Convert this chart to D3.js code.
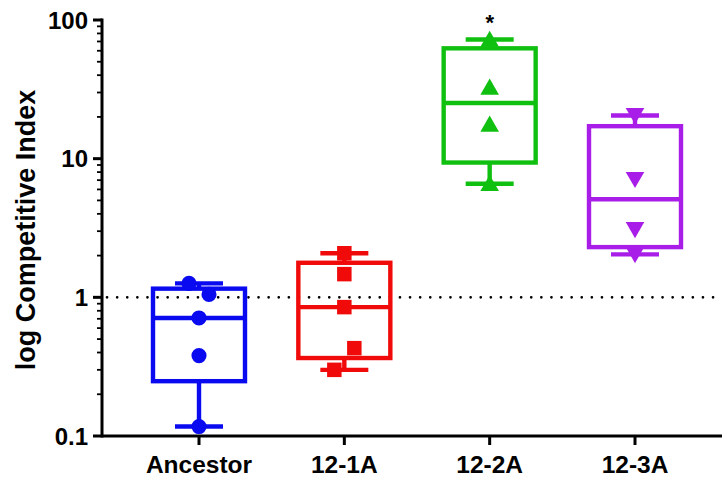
<!DOCTYPE html>
<html>
<head>
<meta charset="utf-8">
<script src="https://cdn.jsdelivr.net/npm/d3@7/dist/d3.min.js"></script>
<style>
  html, body { margin: 0; padding: 0; background: #fff; }
  svg { display: block; }
  text { font-family: "Liberation Sans", Arial, sans-serif; font-weight: bold; fill: #000; }
</style>
</head>
<body>
<svg id="chart" width="722" height="479"></svg>
<script>
// ---- data ----
const categories = ["Ancestor", "12-1A", "12-2A", "12-3A"];
const ancestorValues = [1.26, 1.05, 0.71, 0.38, 0.117];
const g121AValues   = [2.08, 1.47, 0.85, 0.43, 0.30];
const g122AValues   = [72.4, 32.7, 17.7, 6.6];
const g123AValues   = [20.5, 7.1, 3.09, 2.04];
// side-by-side dodge rank for overlapping points (-1 left, 0 centre, 1 right)
const ancestorDodge = [-1, 1, 0, 0, 0];
const g121ADodge    = [0, 0, 0, 1, -1];
const g122ADodge    = [0, 0, 0, 0];
const g123ADodge    = [0, 0, 0, 0];
const yTickValues   = [0.1, 1, 10, 100];
const yTickLabels   = ["0.1", "1", "10", "100"];
const referenceLine = 1;
const significance  = ["", "", "*", ""];
const colors  = ["#0a0af0", "#f00a0a", "#10c010", "#a81ee8"];
const shapes  = ["circle", "square", "triangle", "triangleDown"];

const groups = [ancestorValues, g121AValues, g122AValues, g123AValues];
const dodges = [ancestorDodge, g121ADodge, g122ADodge, g123ADodge];

// ---- layout ----
const svg = d3.select("#chart");
const x = d3.scalePoint().domain(categories).range([199, 635]);
const y = d3.scaleLog().domain([0.1, 100]).range([436, 20]);
const axisX0 = 102, axisRight = 722;

function pct(sorted, p) {
  const n = sorted.length;
  let pos = p * (n + 1);
  if (pos < 1) pos = 1;
  if (pos > n) pos = n;
  const lo = Math.floor(pos), hi = Math.ceil(pos);
  const f = pos - lo;
  return sorted[lo - 1] + f * (sorted[hi - 1] - sorted[lo - 1]);
}
function stats(vals) {
  const s = vals.slice().sort((a, b) => a - b);
  return { min: s[0], q1: pct(s, 0.25), med: d3.median(s), q3: pct(s, 0.75), max: s[s.length - 1] };
}

// reference dotted line
svg.append("line")
  .attr("x1", axisX0 + 5).attr("x2", axisRight)
  .attr("y1", y(referenceLine)).attr("y2", y(referenceLine))
  .attr("stroke", "#000").attr("stroke-width", 2.6)
  .attr("stroke-linecap", "round")
  .attr("stroke-dasharray", "0.1 10");

const boxHalf = 46, capHalf = 24, lw = 4.4;

groups.forEach((vals, i) => {
  const st = stats(vals);
  const cx = x(categories[i]);
  const g = svg.append("g").attr("stroke", colors[i]).attr("stroke-width", lw).attr("fill", "none");
  // whiskers
  g.append("line").attr("x1", cx).attr("x2", cx).attr("y1", y(st.max)).attr("y2", y(st.q3));
  g.append("line").attr("x1", cx).attr("x2", cx).attr("y1", y(st.q1)).attr("y2", y(st.min));
  g.append("line").attr("x1", cx - capHalf).attr("x2", cx + capHalf).attr("y1", y(st.max)).attr("y2", y(st.max));
  g.append("line").attr("x1", cx - capHalf).attr("x2", cx + capHalf).attr("y1", y(st.min)).attr("y2", y(st.min));
  // box
  g.append("rect").attr("x", cx - boxHalf).attr("width", boxHalf * 2)
    .attr("y", y(st.q3)).attr("height", y(st.q1) - y(st.q3));
  g.append("line").attr("x1", cx - boxHalf).attr("x2", cx + boxHalf).attr("y1", y(st.med)).attr("y2", y(st.med));

  // points
  const symType = {
    circle: d3.symbolCircle, square: d3.symbolSquare,
    triangle: d3.symbolTriangle, triangleDown: d3.symbolTriangle
  }[shapes[i]];
  const size = { circle: 180, square: 210, triangle: 150, triangleDown: 150 }[shapes[i]];
  const sym = d3.symbol().type(symType).size(size);
  vals.forEach((v, j) => {
    const px = cx + dodges[i][j] * 10;
    let py = y(v);
    let rot = 0;
    if (shapes[i] === "triangle") py += 2;
    if (shapes[i] === "triangleDown") { rot = 180; py -= 2; }
    svg.append("path").attr("d", sym())
      .attr("transform", `translate(${px},${py}) rotate(${rot})`)
      .attr("fill", colors[i]);
  });

  if (significance[i]) {
    svg.append("text").attr("x", cx).attr("y", 30)
      .attr("text-anchor", "middle").style("font-size", "22px")
      .text(significance[i]);
  }
});

// y axis
const yAxisG = svg.append("g").attr("stroke", "#000");
yAxisG.append("line").attr("x1", axisX0).attr("x2", axisX0).attr("y1", y(100) - 1.5).attr("y2", y(0.1) + 1.5).attr("stroke-width", 3);
const minor = [];
for (let d = 0.1; d < 100; d *= 10) for (let k = 2; k <= 9; k++) minor.push(d * k);
yAxisG.selectAll(".minor").data(minor).enter().append("line")
  .attr("x1", axisX0 - 5).attr("x2", axisX0)
  .attr("y1", d => y(d)).attr("y2", d => y(d)).attr("stroke-width", 1.8);
yAxisG.selectAll(".major").data(yTickValues).enter().append("line")
  .attr("x1", axisX0 - 9).attr("x2", axisX0)
  .attr("y1", d => y(d)).attr("y2", d => y(d)).attr("stroke-width", 3);
svg.selectAll(".ylab").data(yTickValues).enter().append("text")
  .attr("x", axisX0 - 14).attr("y", d => y(d) + 8.5)
  .attr("text-anchor", "end").style("font-size", "24px")
  .text((d, i) => yTickLabels[i]);

// x axis
svg.append("line").attr("x1", axisX0).attr("x2", axisRight).attr("y1", y(0.1)).attr("y2", y(0.1))
  .attr("stroke", "#000").attr("stroke-width", 3);
svg.selectAll(".xt").data(categories).enter().append("line")
  .attr("x1", d => x(d)).attr("x2", d => x(d))
  .attr("y1", y(0.1)).attr("y2", y(0.1) + 9)
  .attr("stroke", "#000").attr("stroke-width", 3);
svg.selectAll(".xl").data(categories).enter().append("text")
  .attr("x", d => x(d)).attr("y", 473)
  .attr("text-anchor", "middle").style("font-size", "24.5px")
  .text(d => d);

// y title
svg.append("text")
  .attr("transform", "translate(35,230) rotate(-90)")
  .attr("text-anchor", "middle").style("font-size", "27px")
  .text("log Competitive Index");
</script>
</body>
</html>
